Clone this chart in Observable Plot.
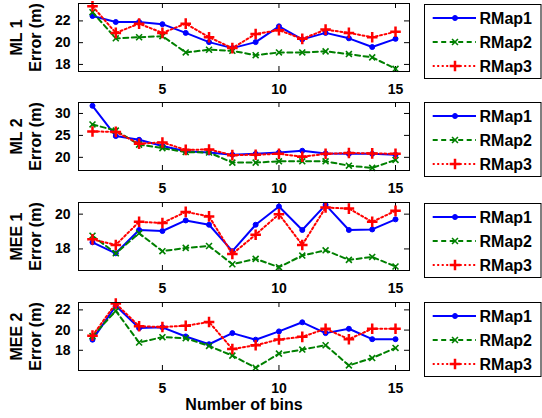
<!DOCTYPE html>
<html><head><meta charset="utf-8">
<script src="https://cdn.jsdelivr.net/npm/d3@7"></script>
<script src="https://cdn.jsdelivr.net/npm/@observablehq/plot@0.6"></script>
<style>
body{margin:0;background:#fff;}
#chart{position:relative;width:542px;height:418px;font-family:"Liberation Sans",Arial,sans-serif;overflow:hidden;}
</style></head><body><div id="chart"></div>
<script>
const bins = [2,3,4,5,6,7,8,9,10,11,12,13,14,15];
const seriesNames = ["RMap1","RMap2","RMap3"];
const panelLabels = ["ML 1","ML 2","MEE 1","MEE 2"];
const xTicks = [5,10,15];
const yTicks = [[18,20,22],[20,25,30],[18,20],[18,20,22]];
const yDomains = [[17.35,23.6],[17,32.5],[16.76,20.67],[16.0,22.73]];
const xLabel = "Number of bins";

const ml1_rmap1 = [22.45,21.9,21.9,21.7,20.9,20.05,19.5,20.05,21.5,20.3,20.9,20.4,19.6,20.35];
const ml1_rmap2 = [22.8,20.4,20.5,20.6,19.1,19.35,19.25,18.85,19.1,19.1,19.2,18.95,18.65,17.6];
const ml1_rmap3 = [23.35,20.9,21.75,20.9,21.75,20.5,19.5,20.8,21.15,20.35,21.2,20.9,20.5,21.0];

const ml2_rmap1 = [31.75,24.85,24.0,22.6,21.4,21.1,20.6,20.8,21.1,21.5,20.9,20.8,20.8,20.6];
const ml2_rmap2 = [27.5,26.1,22.9,22.1,21.2,21.1,18.8,18.8,19.1,19.1,19.1,18.1,17.6,19.4];
const ml2_rmap3 = [25.9,25.8,23.1,23.4,21.7,21.8,20.5,20.6,20.8,20.15,20.8,21.0,20.9,20.8];

const mee1_rmap1 = [18.38,17.75,19.09,19.03,19.64,19.39,17.87,19.39,20.44,19.09,20.53,19.09,19.12,19.7];
const mee1_rmap2 = [18.76,17.75,18.9,17.87,18.06,18.17,17.12,17.43,16.95,17.62,17.92,17.37,17.54,16.99];
const mee1_rmap3 = [18.55,18.23,19.56,19.49,20.13,19.87,17.71,18.82,20.0,18.23,20.38,20.32,19.56,20.19];

const mee2_rmap1 = [19.05,22.4,20.2,20.27,19.37,18.6,19.7,19.05,19.87,20.77,19.7,20.13,19.1,19.1];
const mee2_rmap2 = [19.4,21.9,18.77,19.3,19.2,18.43,17.47,16.27,17.67,18.07,18.5,16.5,17.23,18.23];
const mee2_rmap3 = [19.45,22.63,20.38,20.3,20.43,20.8,18.13,18.5,19.07,19.33,20.13,19.1,20.13,20.13];

const panels = [
  [ml1_rmap1, ml1_rmap2, ml1_rmap3],
  [ml2_rmap1, ml2_rmap2, ml2_rmap3],
  [mee1_rmap1, mee1_rmap2, mee1_rmap3],
  [mee2_rmap1, mee2_rmap2, mee2_rmap3]
];

const styles = [
  {color:"#0000ff", dash:null, symbol:"circle", r:2.5, filled:true, sw:1},
  {color:"#008000", dash:"5,3.5", symbol:"times", r:2.8, filled:false, sw:1.6},
  {color:"#ff0000", dash:"2,2.5", symbol:"plus", r:3.5, filled:false, sw:2.5}
];

const chart = document.getElementById("chart");
const W = 542, ML = 78, MR = 133, MT = 3, BOX = 68;
const innerW = W - ML - MR;
const tops = [0, 99, 199, 299];
const legendTops = [4, 102, 203, 302];

panels.forEach((series, i) => {
  const last = i === panels.length - 1;
  const H = last ? 119 : 99;
  const MB = H - MT - BOX;
  const marks = [];
  marks.push(Plot.ruleX(xTicks, {x: d => d, insetTop: BOX - 5, stroke: "black"}));
  marks.push(Plot.ruleX(xTicks, {x: d => d, insetBottom: BOX - 5, stroke: "black"}));
  marks.push(Plot.ruleY(yTicks[i], {y: d => d, insetRight: innerW - 5, stroke: "black"}));
  marks.push(Plot.ruleY(yTicks[i], {y: d => d, insetLeft: innerW - 5, stroke: "black"}));
  marks.push(Plot.axisX(xTicks, {tickSize: 0, tickPadding: 13, label: null}));
  marks.push(Plot.axisY(yTicks[i], {tickSize: 0, tickPadding: 8, label: null}));
  series.forEach((vals, s) => {
    const st = styles[s];
    const rows = vals.map((v, k) => ({bin: bins[k], err: v}));
    marks.push(Plot.line(rows, {x: "bin", y: "err", stroke: st.color, strokeWidth: 2, strokeDasharray: st.dash, strokeLinejoin: "round"}));
    if (st.filled) {
      marks.push(Plot.dot(rows, {x: "bin", y: "err", r: st.r, fill: st.color, stroke: st.color, strokeWidth: st.sw}));
    } else {
      marks.push(Plot.dot(rows, {x: "bin", y: "err", r: st.r, symbol: st.symbol, stroke: st.color, strokeWidth: st.sw}));
    }
  });
  marks.push(Plot.frame({stroke: "black", strokeWidth: 1}));
  marks.push(Plot.text([panelLabels[i] + "\nError (m)"], {text: d => d, frameAnchor: "left", textAnchor: "middle", lineAnchor: "middle", rotate: -90, dx: -53, fontSize: 16, fontWeight: "bold", lineHeight: 1.2}));
  if (last) {
    marks.push(Plot.text([xLabel], {text: d => d, frameAnchor: "bottom", dy: 28, lineAnchor: "top", fontSize: 16, fontWeight: "bold"}));
  }
  const svg = Plot.plot({
    width: W, height: H,
    marginLeft: ML, marginRight: MR, marginTop: MT, marginBottom: MB,
    x: {domain: [1.4, 15.6]},
    y: {domain: yDomains[i]},
    style: {fontFamily: "'Liberation Sans', Arial, sans-serif", fontSize: "14px", fontWeight: "bold", color: "black", background: "transparent", overflow: "visible"},
    marks
  });
  svg.style.position = "absolute";
  svg.style.left = "0px";
  svg.style.top = tops[i] + "px";
  chart.appendChild(svg);

  // legend
  const lg = d3.create("svg").attr("width", 118).attr("height", 76)
    .style("position", "absolute").style("left", "424px").style("top", legendTops[i] + "px");
  lg.append("rect").attr("x", 0.5).attr("y", 0.5).attr("width", 116.5).attr("height", 74)
    .attr("fill", "white").attr("stroke", "black").attr("stroke-width", 1);
  styles.forEach((st, j) => {
    const y = 14 + 24 * j;
    lg.append("line").attr("x1", 8.7).attr("x2", 52).attr("y1", y).attr("y2", y)
      .attr("stroke", st.color).attr("stroke-width", 2).attr("stroke-dasharray", st.dash);
    const sym = st.symbol === "circle" ? d3.symbolCircle : st.symbol === "times" ? d3.symbolTimes : d3.symbolPlus;
    lg.append("path").attr("transform", `translate(31,${y})`)
      .attr("d", d3.symbol(sym, Math.PI * st.r * st.r)())
      .attr("fill", st.filled ? st.color : "none").attr("stroke", st.color).attr("stroke-width", st.sw);
    lg.append("text").attr("x", 55.5).attr("y", y).attr("dy", "0.36em")
      .attr("font-family", "'Liberation Sans', Arial, sans-serif").attr("font-size", 16).attr("font-weight", "bold")
      .text(seriesNames[j]);
  });
  chart.appendChild(lg.node());
});
</script></body></html>
